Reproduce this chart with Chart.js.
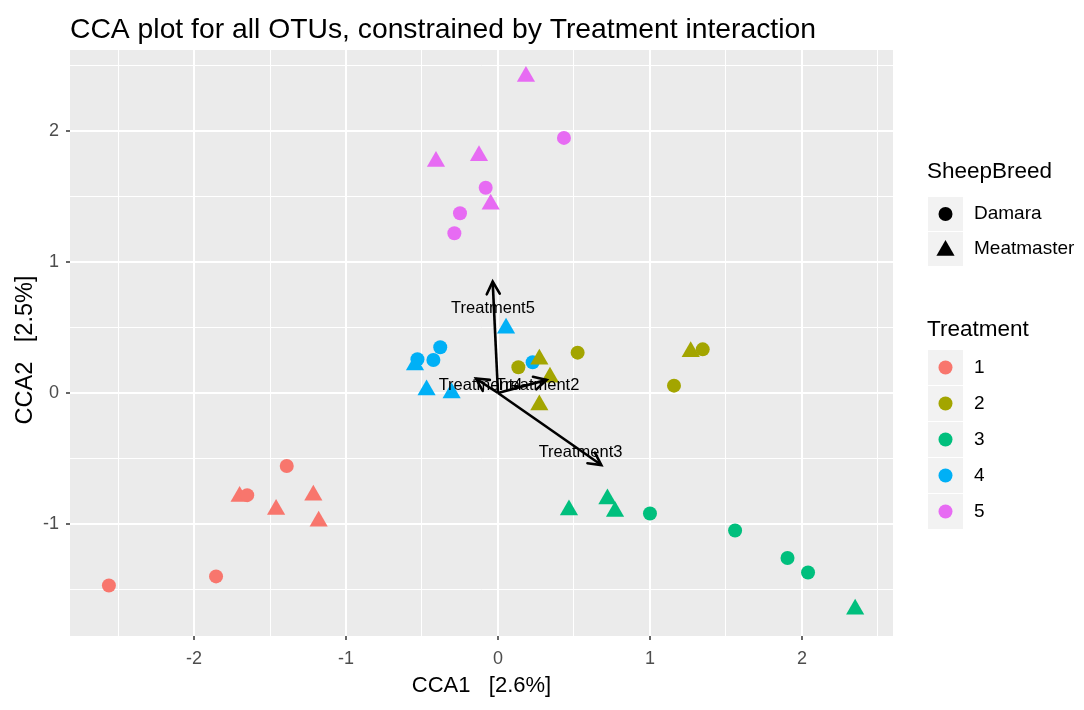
<!DOCTYPE html>
<html>
<head>
<meta charset="utf-8">
<script src="https://cdn.jsdelivr.net/npm/chart.js@4.4.1/dist/chart.umd.min.js"></script>
<style>
html,body{margin:0;padding:0;background:#ffffff;}
#wrap{width:1084px;height:710px;position:relative;}
</style>
</head>
<body>
<div id="wrap"><canvas id="c" width="1084" height="710"></canvas></div>
<script>
// ---------- DATA ----------
const titleText = 'CCA plot for all OTUs, constrained by Treatment interaction';
const xAxisTitle = 'CCA1   [2.6%]';
const yAxisTitle = 'CCA2   [2.5%]';
const xMajorTicks = [-2, -1, 0, 1, 2];
const xMinorTicks = [-2.5, -1.5, -0.5, 0.5, 1.5, 2.5];
const yMajorTicks = [-1, 0, 1, 2];
const yMinorTicks = [-1.5, -0.5, 0.5, 1.5, 2.5];
const xRange = [-2.816, 2.599];
const yRange = [-1.855, 2.618];

const treatments = ['1', '2', '3', '4', '5'];
const breeds = ['Damara', 'Meatmaster'];
const legendTitles = ['SheepBreed', 'Treatment'];

// Damara = circles, Meatmaster = triangles ; [CCA1, CCA2]
const damaraT1 = [[-1.39, -0.557], [-1.65, -0.78], [-2.56, -1.47], [-1.855, -1.40]];
const meatT1   = [[-1.70, -0.79], [-1.46, -0.89], [-1.215, -0.78], [-1.18, -0.98]];
const damaraT2 = [[0.134, 0.196], [0.524, 0.308], [1.158, 0.056], [1.347, 0.333]];
const meatT2   = [[0.272, 0.257], [0.342, 0.12], [0.272, -0.092], [1.268, 0.315]];
const damaraT3 = [[1.0, -0.92], [1.56, -1.05], [1.905, -1.26], [2.04, -1.37]];
const meatT3   = [[0.467, -0.893], [0.72, -0.81], [0.77, -0.905], [2.35, -1.65]];
const damaraT4 = [[-0.38, 0.349], [-0.425, 0.252], [-0.53, 0.257], [0.228, 0.234]];
const meatT4   = [[0.053, 0.494], [-0.546, 0.214], [-0.47, 0.023], [-0.305, 0.0]];
const damaraT5 = [[0.434, 1.947], [-0.081, 1.567], [-0.25, 1.372], [-0.287, 1.219]];
const meatT5   = [[0.184, 2.415], [-0.408, 1.766], [-0.125, 1.81], [-0.048, 1.44]];

// Biplot arrows (from origin)
const arrowLabels = ['Treatment2', 'Treatment3', 'Treatment4', 'Treatment5'];
const arrowX = [0.32, 0.68, -0.145, -0.035];
const arrowY = [0.10, -0.55, 0.11, 0.85];
const labelX = [0.26, 0.543, -0.115, -0.033];
const labelY = [0.061, -0.456, 0.061, 0.649];

// ---------- STYLE ----------
const FONT = '"Liberation Sans", Arial, Helvetica, sans-serif';
const treatmentColors = ['#F8766D', '#A3A500', '#00BF7D', '#00B0F6', '#E76BF3'];
const damaraSets = [damaraT1, damaraT2, damaraT3, damaraT4, damaraT5];
const meatSets = [meatT1, meatT2, meatT3, meatT4, meatT5];
const CIRCLE_R = 7;
const TRI_R = 10.5;
const ARROW_W = 2.6;

const datasets = [];
arrowLabels.forEach((lab, i) => {
  datasets.push({
    type: 'line', label: lab, showLine: true,
    data: [{x: 0, y: 0}, {x: arrowX[i], y: arrowY[i]}],
    borderColor: '#000000', borderWidth: ARROW_W, pointRadius: 0, fill: false,
    order: 1, arrowIndex: i
  });
});
treatments.forEach((t, i) => {
  datasets.push({
    label: 'Treatment ' + t + ' ' + breeds[0],
    data: damaraSets[i].map(p => ({x: p[0], y: p[1]})),
    pointStyle: 'circle', pointRadius: CIRCLE_R,
    backgroundColor: treatmentColors[i], borderColor: treatmentColors[i], borderWidth: 0,
    order: 2
  });
  datasets.push({
    label: 'Treatment ' + t + ' ' + breeds[1],
    data: meatSets[i].map(p => ({x: p[0], y: p[1]})),
    pointStyle: 'triangle', pointRadius: TRI_R,
    backgroundColor: treatmentColors[i], borderColor: treatmentColors[i], borderWidth: 0,
    order: 2
  });
});

const bgPlugin = {
  id: 'bg',
  beforeDraw(chart) {
    const {ctx, chartArea: a} = chart;
    ctx.save();
    ctx.fillStyle = '#FFFFFF';
    ctx.fillRect(0, 0, chart.width, chart.height);
    ctx.fillStyle = '#EBEBEB';
    ctx.fillRect(a.left, a.top, a.right - a.left, a.bottom - a.top);
    ctx.restore();
  }
};

const overlayPlugin = {
  id: 'overlay',
  afterDatasetsDraw(chart) {
    const {ctx} = chart;
    const xs = chart.scales.x, ys = chart.scales.y;
    ctx.save();
    // arrowheads
    chart.data.datasets.forEach((ds, di) => {
      if (ds.arrowIndex === undefined) return;
      const meta = chart.getDatasetMeta(di);
      const p0 = meta.data[0], p1 = meta.data[1];
      const ang = Math.atan2(p1.y - p0.y, p1.x - p0.x);
      const L = 14, spread = Math.PI / 6.5;
      ctx.strokeStyle = '#000000';
      ctx.lineWidth = ARROW_W;
      ctx.lineCap = 'round';
      ctx.beginPath();
      ctx.moveTo(p1.x - L * Math.cos(ang - spread), p1.y - L * Math.sin(ang - spread));
      ctx.lineTo(p1.x, p1.y);
      ctx.lineTo(p1.x - L * Math.cos(ang + spread), p1.y - L * Math.sin(ang + spread));
      ctx.stroke();
    });
    // arrow labels
    ctx.fillStyle = '#000000';
    ctx.font = '16.5px ' + FONT;
    ctx.textAlign = 'center';
    ctx.textBaseline = 'middle';
    arrowLabels.forEach((lab, i) => {
      ctx.fillText(lab, xs.getPixelForValue(labelX[i]), ys.getPixelForValue(labelY[i]));
    });
    ctx.restore();
  },
  afterDraw(chart) {
    const {ctx} = chart;
    ctx.save();
    // title
    ctx.fillStyle = '#000000';
    ctx.textAlign = 'left';
    ctx.textBaseline = 'alphabetic';
    ctx.font = '28.3px ' + FONT;
    ctx.fillText(titleText, 70, 38);
    // y axis title
    ctx.save();
    ctx.translate(26, 350);
    ctx.rotate(-Math.PI / 2);
    ctx.textAlign = 'center';
    ctx.textBaseline = 'middle';
    ctx.font = '23.5px ' + FONT;
    ctx.fillText(yAxisTitle, 0, 0);
    ctx.restore();
    // legend: SheepBreed
    const lx = 928, kw = 35, kh = 34;
    ctx.font = '22.5px ' + FONT;
    ctx.textBaseline = 'middle';
    ctx.textAlign = 'left';
    ctx.fillText(legendTitles[0], lx - 1, 172);
    const breedY = [197, 232];
    breeds.forEach((b, i) => {
      ctx.fillStyle = '#F2F2F2';
      ctx.fillRect(lx, breedY[i], kw, kh);
      ctx.fillStyle = '#000000';
      ctx.strokeStyle = '#000000';
      Chart.helpers.drawPoint(ctx, {pointStyle: i === 0 ? 'circle' : 'triangle', radius: i === 0 ? CIRCLE_R : TRI_R, borderWidth: 0, rotation: 0},
        lx + kw / 2, breedY[i] + kh / 2 + (i === 1 ? 1.5 : 0));
      ctx.fillStyle = '#000000';
      ctx.font = '19px ' + FONT;
      ctx.textAlign = 'left';
      ctx.fillText(b, 974, breedY[i] + kh / 2);
    });
    // legend: Treatment
    ctx.font = '22.5px ' + FONT;
    ctx.fillText(legendTitles[1], lx - 1, 330);
    treatments.forEach((t, i) => {
      const by = 350 + i * 36;
      ctx.fillStyle = '#F2F2F2';
      ctx.fillRect(lx, by, kw, 35);
      ctx.fillStyle = treatmentColors[i];
      ctx.strokeStyle = treatmentColors[i];
      Chart.helpers.drawPoint(ctx, {pointStyle: 'circle', radius: CIRCLE_R, borderWidth: 0, rotation: 0}, lx + kw / 2, by + 17.5);
      ctx.fillStyle = '#000000';
      ctx.font = '19px ' + FONT;
      ctx.textAlign = 'left';
      ctx.fillText(t, 974, by + 17.5);
    });
    ctx.restore();
  }
};

const isMajorX = v => xMajorTicks.includes(v);
const isMajorY = v => yMajorTicks.includes(v);

new Chart(document.getElementById('c'), {
  type: 'scatter',
  data: {datasets},
  options: {
    responsive: false,
    animation: false,
    events: [],
    layout: {padding: {left: 0, top: 50, right: 191, bottom: 0}},
    plugins: {legend: {display: false}, tooltip: {enabled: false}, title: {display: false}},
    scales: {
      x: {
        type: 'linear', min: xRange[0], max: xRange[1],
        afterBuildTicks: s => {
          s.ticks = [...xMinorTicks, ...xMajorTicks].sort((a, b) => a - b).map(v => ({value: v}));
        },
        afterFit: s => { s.height = 74; },
        ticks: {
          autoSkip: false, maxRotation: 0, minRotation: 0, padding: 8,
          color: '#4D4D4D', font: {family: FONT, size: 18},
          callback: v => isMajorX(v) ? String(v) : ''
        },
        grid: {
          color: '#FFFFFF',
          lineWidth: c => (c.tick && isMajorX(c.tick.value)) ? 2 : 1,
          drawTicks: true, tickLength: 4, tickWidth: 1.5,
          tickColor: c => (c.tick && isMajorX(c.tick.value)) ? '#333333' : 'rgba(0,0,0,0)'
        },
        border: {display: false},
        title: {display: true, text: xAxisTitle, color: '#000000', font: {family: FONT, size: 22}, padding: {top: 0, bottom: 11}}
      },
      y: {
        type: 'linear', min: yRange[0], max: yRange[1],
        afterBuildTicks: s => {
          s.ticks = [...yMinorTicks, ...yMajorTicks].sort((a, b) => a - b).map(v => ({value: v}));
        },
        afterFit: s => { s.width = 70; },
        ticks: {
          autoSkip: false, padding: 7,
          color: '#4D4D4D', font: {family: FONT, size: 18},
          callback: v => isMajorY(v) ? String(v) : ''
        },
        grid: {
          color: '#FFFFFF',
          lineWidth: c => (c.tick && isMajorY(c.tick.value)) ? 2 : 1,
          drawTicks: true, tickLength: 4, tickWidth: 1.5,
          tickColor: c => (c.tick && isMajorY(c.tick.value)) ? '#333333' : 'rgba(0,0,0,0)'
        },
        border: {display: false},
        title: {display: false}
      }
    }
  },
  plugins: [bgPlugin, overlayPlugin]
});
</script>
</body>
</html>
